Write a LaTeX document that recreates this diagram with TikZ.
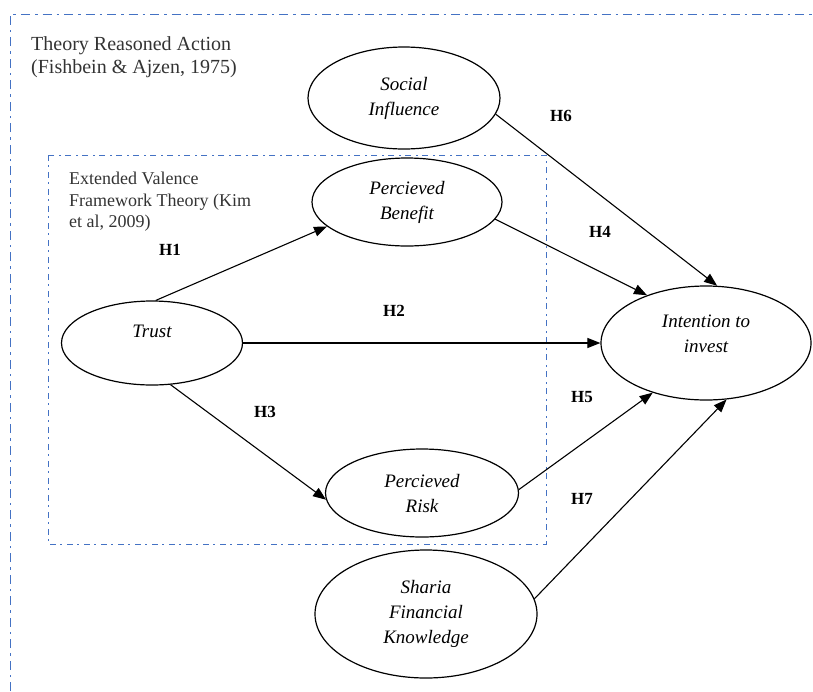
\documentclass[tikz,border=0pt]{standalone}
\usepackage{fontspec}
\setmainfont{Liberation Serif}
\usetikzlibrary{arrows.meta,shapes.geometric}
\definecolor{frameblue}{RGB}{68,114,196}
\begin{document}
\begin{tikzpicture}[x=1pt,y=-1pt,
  construct/.style={draw, ellipse, line width=1.2pt, inner sep=0pt, align=center,
    font=\fontsize{19}{25}\selectfont\itshape},
  hyp/.style={font=\fontsize{17}{20}\selectfont\bfseries, inner sep=0pt},
  link/.style={line width=1.1pt, -{Triangle[length=13pt,width=10pt]}},
  outerframe/.style={frameblue, line width=1pt, dash pattern=on 9pt off 5pt on 2.5pt off 5pt},
  innerframe/.style={frameblue, line width=1pt, dash pattern=on 6pt off 4pt on 2pt off 5pt},
  caption/.style={align=left, inner sep=0pt, anchor=north west, text=black!80}
]
\useasboundingbox (0,0) rectangle (813,691);
% frames
\draw[outerframe] (10,691) -- (10,14) -- (813,14);
\draw[innerframe] (48,155) rectangle (546,544);
% captions
\node[caption, font=\fontsize{20}{23}\selectfont] (tra) at (31,36) {Theory Reasoned Action\\(Fishbein \& Ajzen, 1975)};
\node[caption, font=\fontsize{18}{21.5}\selectfont] (evf) at (69,172) {Extended Valence\\Framework Theory (Kim\\et al, 2009)};
% constructs
\node[construct, minimum width=192pt, minimum height=102pt] (social) at (404,98) {Social\\Influence};
\node[construct, minimum width=190pt, minimum height=88pt] (benefit) at (407,202) {Percieved\\Benefit};
\node[construct, minimum width=181pt, minimum height=84pt, text depth=24pt] (trust) at (152,343) {Trust};
\node[construct, minimum width=210pt, minimum height=114pt] (intent) at (706,343) {Intention to\\invest\\[-6pt]\mbox{}};
\node[construct, minimum width=193pt, minimum height=88pt] (risk) at (422,493) {Percieved\\Risk};
\node[construct, minimum width=222pt, minimum height=128pt] (sharia) at (426,614) {Sharia\\Financial\\Knowledge};
% links
\draw[link] (trust.85) -- (benefit.197);
\draw[link] (trust.east) -- (intent.west);
\draw[link] (trust.-66) -- (risk.184);
\draw[link] (benefit.-11) -- (intent.141);
\draw[link] (social.-10) -- (intent.79);
\draw[link] (risk.2) -- (intent.223);
\draw[link] (sharia.8) -- (intent.-70);
% hypothesis labels
\node[hyp] (h1) at (170,250) {H1};
\node[hyp] (h2) at (394,311) {H2};
\node[hyp] (h3) at (265,412) {H3};
\node[hyp] (h4) at (600,232) {H4};
\node[hyp] (h5) at (582,397) {H5};
\node[hyp] (h6) at (561,116) {H6};
\node[hyp] (h7) at (582,499) {H7};
\end{tikzpicture}
\end{document}
